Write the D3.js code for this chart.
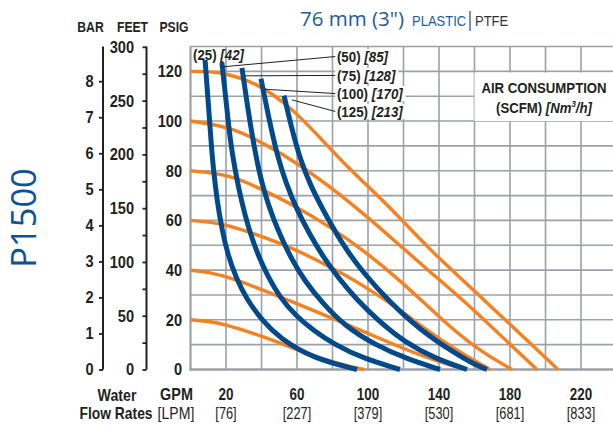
<!DOCTYPE html>
<html><head><meta charset="utf-8">
<script src="https://cdn.jsdelivr.net/npm/d3@7"></script>
<style>body{margin:0;background:#fff}svg{display:block}</style>
</head><body><svg id="c" width="613" height="425"></svg>
<script>
// ---------- data ----------
const gpmTicks = [20, 60, 100, 140, 180, 220];
const lpmTicks = ["[76]", "[227]", "[379]", "[530]", "[681]", "[833]"];
const psiTicks = [0, 20, 40, 60, 80, 100, 120];
const barTicks = [0, 1, 2, 3, 4, 5, 6, 7, 8];
const feetTicks = [0, 25, 50, 75, 100, 125, 150, 175, 200, 225, 250, 275, 300];
const feetLabels = [0, 50, 100, 150, 200, 250, 300];

// orange: air inlet pressure curves [GPM, PSIG]
const orange20  = [[0,20],[10,19.5],[20.6,18],[40.8,13.3],[60,8],[73,4.6],[87,1.6],[98,0]];
const orange40  = [[0,40],[10,39.2],[22.3,37],[40.8,32],[61.7,26],[80.3,20.5],[99.4,14.7],[118,9],[135,4.3],[154.6,0]];
const orange60  = [[0,60],[18.3,59],[40.8,53.4],[60,48.1],[78.6,41.3],[97.2,34],[118,24],[140.6,11.9],[157.5,4.6],[168.7,0]];
const orange80  = [[0,80],[22.3,78.5],[40.8,72.3],[60,65.4],[78.6,57.4],[97.2,48.1],[118,36],[140.6,20.7],[160.3,8.7],[181.1,0]];
const orange100 = [[0,100],[22.3,97.7],[40.8,91.2],[60,83.2],[78.6,73.5],[97.2,63],[116.3,51],[134.9,39.3],[153.5,28],[174.4,13.9],[195.2,0]];
const orange120 = [[0,120],[9,120],[18.3,119.4],[37.5,115.4],[56.1,105.7],[69,96.4],[88.2,81.5],[112.4,65.4],[134.9,48.1],[153.5,36],[174.4,21.9],[191.3,10.7],[207,0]];

// blue: air consumption curves [GPM, PSIG]
const blue25  = [[8.2,124.6],[9.9,108.5],[11.5,92.4],[12.9,80.5],[14.9,68.4],[17.7,56.3],[21.1,46],[25.6,37],[31.8,28],[40.3,19.9],[50.4,12.5],[69,4.5],[93.8,0]];
const blue50  = [[17.7,123.4],[20,108.5],[22.3,92.4],[25.1,80.3],[28.5,68.2],[33,56.1],[38,46.1],[43.7,37.3],[50.4,29],[59.4,21.5],[69,15.9],[81.4,9.9],[97.2,4.5],[118,0]];
const blue75  = [[29,121.4],[32.4,104.5],[35.2,92.4],[38.4,80.3],[42,70.3],[46.5,61],[51.5,52.5],[57.2,44.1],[64.5,35.5],[74.6,26.5],[87,17.5],[104,9.9],[122,4.2],[140.6,0]];
const blue100 = [[39.7,117],[44.3,100.5],[48.9,86],[53.8,75],[60,64.2],[67.3,54.2],[74.6,45.5],[83.1,37],[93.8,28],[106.8,19],[120.8,11],[137.7,4.4],[155.8,0]];
const blue125 = [[52.7,110.2],[57.2,96.5],[61.9,84.4],[67.5,74.3],[74.6,64.2],[85.9,50],[97.2,39],[112.4,27],[129.3,16],[147.9,7],[160,2],[167,0]];

const orangeSeries = [orange20, orange40, orange60, orange80, orange100, orange120];
const blueSeries = [blue25, blue50, blue75, blue100, blue125];

// labels: scfm, Nm3/h, label position (GPM, PSIG baseline), anchor on curve
const scfm = [25, 50, 75, 100, 125];
const nm3h = [42, 85, 128, 170, 213];
const labelPos = [[1.4,124.4],[82.5,123.8],[82.5,116.2],[82.5,108.9],[82.5,101.7]];
const labelAnchor = [null,[17.9,121.8],[30.7,118.2],[42,112.8],[57.2,108.5]];

// ---------- scales ----------
const svg = d3.select("#c");
const x = d3.scaleLinear().domain([0, 240]).range([190.5, 616.5]);
const y = d3.scaleLinear().domain([0, 130]).range([369.5, 46.5]);
const yBar = d3.scaleLinear().domain([0, 130 / 14.5038]).range([369.5, 46.5]);
const yFeet = d3.scaleLinear().domain([0, 130 * 2.31]).range([369.5, 46.5]);

const COND = "'Liberation Sans','Arial',sans-serif";
const HUM = "'Open Sans','Noto Sans',sans-serif";
const SX = 0.86;
const BLUE = "#004a8c", ORANGE = "#f7811f", GRID = "#9ca1a7", INK = "#231f20", TBLUE = "#1d5b9b";

// condensed text helper
function ctext(parent, px, py, str, size, opts = {}) {
  const t = parent.append("text")
    .attr("transform", `translate(${px},${py}) scale(${opts.sx || SX},1)`)
    .attr("font-family", COND).attr("font-size", size)
    .attr("font-weight", opts.weight || "bold").attr("fill", opts.fill || INK)
    .attr("text-anchor", opts.anchor || "start");
  if (str !== null) t.text(str);
  return t;
}

// ---------- grid ----------
const grid = svg.append("g");
grid.selectAll("line.v").data(d3.range(20, 241, 20)).join("line")
  .attr("x1", d => x(d)).attr("x2", d => x(d)).attr("y1", y(130)).attr("y2", y(0))
  .attr("stroke", GRID).attr("stroke-width", 1.6);
grid.selectAll("line.h").data(d3.range(10, 131, 10)).join("line")
  .attr("x1", x(0)).attr("x2", 613).attr("y1", d => y(d)).attr("y2", d => y(d))
  .attr("stroke", GRID).attr("stroke-width", 1.6);
grid.append("line").attr("x1", x(0)).attr("x2", x(0)).attr("y1", y(130)).attr("y2", y(0) + 1)
  .attr("stroke", GRID).attr("stroke-width", 2.2);
grid.append("line").attr("x1", x(0) - 1).attr("x2", 613).attr("y1", y(0)).attr("y2", y(0))
  .attr("stroke", GRID).attr("stroke-width", 2.6);

// ---------- curves ----------
const line = d3.line().x(d => x(d[0])).y(d => y(d[1])).curve(d3.curveBasis);
svg.append("g").selectAll("path").data(orangeSeries).join("path")
  .attr("d", line).attr("fill", "none").attr("stroke", ORANGE).attr("stroke-width", 3.4);
svg.append("g").selectAll("path").data(blueSeries).join("path")
  .attr("d", line).attr("fill", "none").attr("stroke", BLUE).attr("stroke-width", 5);

// ---------- air consumption labels ----------
const lab = svg.append("g");
scfm.forEach((s, i) => {
  const px = x(labelPos[i][0]), py = y(labelPos[i][1]);
  const g = lab.append("g").attr("transform", `translate(${px},${py}) scale(${SX},1)`);
  const t = g.append("text").attr("font-family", COND).attr("font-weight", "bold")
    .attr("font-size", 15.5).attr("fill", INK);
  t.append("tspan").text(`(${s}) `);
  t.append("tspan").attr("font-style", "italic").text(`[${nm3h[i]}]`);
  if (i > 0) {
    const bb = t.node().getBBox();
    g.insert("rect", "text").attr("x", bb.x - 2).attr("y", bb.y + 1).attr("width", bb.width + 4)
      .attr("height", bb.height - 2).attr("fill", "#fff");
    lab.append("line").attr("x1", px + (bb.x - 2) * SX).attr("y1", py + bb.y + bb.height / 2)
      .attr("x2", x(labelAnchor[i][0])).attr("y2", y(labelAnchor[i][1]))
      .attr("stroke", INK).attr("stroke-width", 1);
  }
});

// AIR CONSUMPTION box
svg.append("rect").attr("x", x(160)).attr("y", y(119.5)).attr("width", 613 - x(160))
  .attr("height", y(100) - y(119.5)).attr("fill", "#fff");
ctext(svg, 544, 93, "AIR CONSUMPTION", 15, { anchor: "middle", sx: 0.88 });
const l2 = ctext(svg, 544, 113, null, 15, { anchor: "middle", sx: 0.88 });
l2.append("tspan").text("(SCFM) ");
l2.append("tspan").attr("font-style", "italic").text("[Nm");
l2.append("tspan").attr("font-style", "italic").attr("font-size", 9).attr("dy", -6).text("3");
l2.append("tspan").attr("font-style", "italic").attr("dy", 6).text("/h]");

// ---------- left axes ----------
function styleAxis(g, pad, size) {
  g.selectAll("text").attr("font-family", COND).attr("font-weight", "bold").attr("font-size", size)
    .attr("fill", INK).attr("x", -pad / SX).attr("transform", `scale(${SX},1)`);
  g.selectAll("line").attr("stroke", INK).attr("stroke-width", 1.8);
  g.selectAll("path").attr("stroke", INK).attr("stroke-width", 2);
}
const barAxis = svg.append("g").attr("transform", "translate(103,0)")
  .call(d3.axisLeft(yBar).tickValues(barTicks).tickSize(4).tickSizeOuter(0).tickFormat(d3.format("d")));
barAxis.select(".domain").attr("d", `M0,${y(130)}V${y(0)}`);
styleAxis(barAxis, 9.5, 17);
const feetAxis = svg.append("g").attr("transform", "translate(146.5,0)")
  .call(d3.axisLeft(yFeet).tickValues(feetTicks).tickSize(4).tickSizeOuter(0)
    .tickFormat(d => feetLabels.includes(d) ? d : ""));
feetAxis.select(".domain").attr("d", `M0,${y(130)}V${y(0)}`);
styleAxis(feetAxis, 12.5, 17);
const psiAxis = svg.append("g").attr("transform", `translate(${x(0)},0)`)
  .call(d3.axisLeft(y).tickValues(psiTicks).tickSize(0));
psiAxis.select(".domain").remove();
styleAxis(psiAxis, 8.5, 17);

// headers
[["BAR", 90.5], ["FEET", 132.5], ["PSIG", 174]].forEach(d =>
  ctext(svg, d[1], 32, d[0], 14.5, { anchor: "middle", sx: 0.84 }));

// ---------- bottom labels ----------
const bot = svg.append("g");
gpmTicks.forEach((d, i) => {
  ctext(bot, x(d), 400, String(d), 16, { anchor: "middle", sx: 0.84 });
  ctext(bot, x(d), 419, lpmTicks[i], 16, { anchor: "middle", sx: 0.8, weight: "normal" });
});
ctext(bot, 117, 401, "Water", 16.5, { anchor: "middle", sx: 0.86 });
ctext(bot, 116, 419, "Flow Rates", 16.5, { anchor: "middle", sx: 0.84 });
ctext(bot, 176.5, 400, "GPM", 16, { anchor: "middle", sx: 0.9 });
ctext(bot, 176, 419, "[LPM]", 16, { anchor: "middle", sx: 0.88, weight: "normal" });

// ---------- title ----------
svg.append("text").attr("x", 300).attr("y", 26).attr("font-family", HUM).attr("font-size", 20.5)
  .attr("fill", TBLUE).text("76 mm (3\")");
ctext(svg, 412, 26, "PLASTIC", 15.5, { sx: 0.84, weight: "normal", fill: TBLUE });
svg.append("line").attr("x1", 470).attr("x2", 470).attr("y1", 11).attr("y2", 31)
  .attr("stroke", TBLUE).attr("stroke-width", 1.3);
ctext(svg, 475, 26, "PTFE", 15.5, { sx: 0.84, weight: "normal", fill: "#333" });

// model label
svg.append("text").attr("transform", "translate(35.5,218) rotate(-90)").attr("text-anchor", "middle")
  .attr("font-family", HUM).attr("font-size", 34.5).attr("fill", "#0b5394").text("P1500");
</script></body></html>
